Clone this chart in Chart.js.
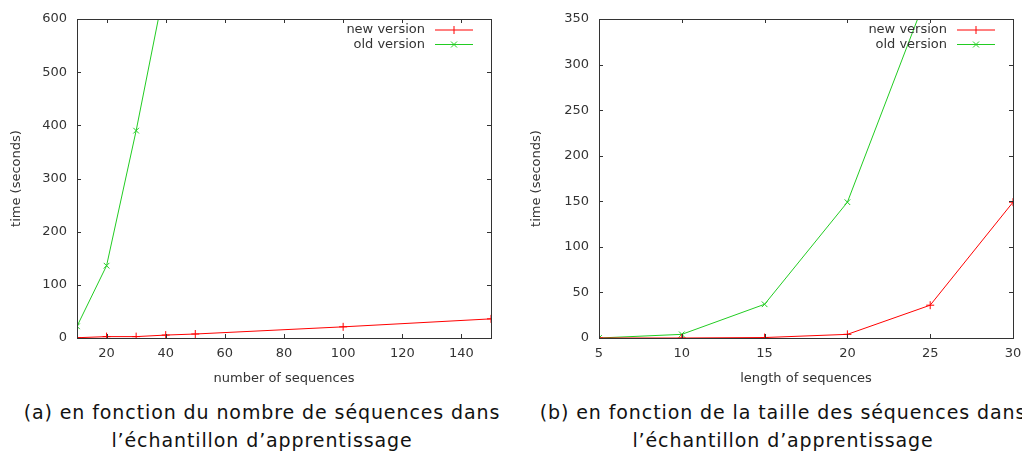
<!DOCTYPE html>
<html>
<head>
<meta charset="utf-8">
<script src="https://cdn.jsdelivr.net/npm/chart.js@4/dist/chart.umd.min.js"></script>
<style>
    body { margin: 0; background: #fff; width: 1022px; height: 455px; overflow: hidden; position: relative; }
    .box { position: absolute; top: 0; height: 390px; }
    #boxA { left: 0; width: 510px; }
    #boxB { left: 520px; width: 512px; }
    .caption {
        position: absolute; top: 398px; text-align: center;
        font-family: 'DejaVu Sans', sans-serif; font-size: 19px; line-height: 28px; color: #111;
        letter-spacing: 0.9px; white-space: nowrap;
    }
    #capA { left: 12px; width: 500px; }
    #capB { left: 533px; width: 500px; }
</style>
</head>
<body>
<div class="box" id="boxA"><canvas id="chartA"></canvas></div>
<div class="box" id="boxB"><canvas id="chartB"></canvas></div>
<div class="caption" id="capA">(a) en fonction du nombre de séquences dans<br>l’échantillon d’apprentissage</div>
<div class="caption" id="capB">(b) en fonction de la taille des séquences dans<br>l’échantillon d’apprentissage</div>

<script>
// (a) time vs number of sequences
const seqCounts = [10, 20, 30, 40, 50, 100, 150];
const newVersionA = [0.5, 2.6, 2.6, 5.5, 7.5, 21, 36];
const oldCountsA = [10, 20, 30, 40];
const oldVersionA = [22, 136, 390, 670];
const yTicksA = [0, 100, 200, 300, 400, 500, 600];
const xTicksA = [20, 40, 60, 80, 100, 120, 140];

// (b) time vs length of sequences
const seqLengths = [5, 10, 15, 20, 25, 30];
const newVersionB = [0, 0, 0.5, 4, 36, 149];
const oldLengthsB = [5, 10, 15, 20, 25];
const oldVersionB = [0, 4, 37, 149, 386];
const yTicksB = [0, 50, 100, 150, 200, 250, 300, 350];
const xTicksB = [5, 10, 15, 20, 25, 30];

const RED = '#ff0000';
const GREEN = '#22cc22';
const FONT = "'DejaVu Sans', sans-serif";

// gnuplot-like inward ticks on all four sides
const innerTicks = {
    id: 'innerTicks',
    afterDatasetsDraw(chart) {
        const ctx = chart.ctx;
        const a = chart.chartArea;
        const len = 4;
        ctx.save();
        ctx.strokeStyle = '#333';
        ctx.lineWidth = 1;
        ctx.beginPath();
        chart.scales.x.ticks.forEach(t => {
            const px = Math.round(chart.scales.x.getPixelForValue(t.value)) + 0.5;
            ctx.moveTo(px, a.bottom); ctx.lineTo(px, a.bottom - len);
            ctx.moveTo(px, a.top); ctx.lineTo(px, a.top + len);
        });
        chart.scales.y.ticks.forEach(t => {
            const py = Math.round(chart.scales.y.getPixelForValue(t.value)) + 0.5;
            ctx.moveTo(a.left, py); ctx.lineTo(a.left + len, py);
            ctx.moveTo(a.right, py); ctx.lineTo(a.right - len, py);
        });
        ctx.stroke();
        ctx.strokeRect(Math.round(a.left) + 0.5, Math.round(a.top) + 0.5,
            Math.round(a.right - a.left), Math.round(a.bottom - a.top));
        ctx.restore();
    }
};

// legend drawn inside the top right, text then sample line with marker
const keyBox = {
    id: 'keyBox',
    afterDraw(chart) {
        const ctx = chart.ctx;
        const a = chart.chartArea;
        ctx.save();
        ctx.font = '13px ' + FONT;
        ctx.textAlign = 'right';
        ctx.textBaseline = 'middle';
        chart.data.datasets.forEach((ds, i) => {
            const y = a.top + 11 + i * 14.5;
            const x1 = a.right - 56, x2 = a.right - 18, xm = (x1 + x2) / 2;
            ctx.fillStyle = '#333';
            ctx.fillText(ds.label, x1 - 10, y);
            ctx.strokeStyle = ds.borderColor;
            ctx.lineWidth = 1;
            ctx.beginPath();
            ctx.moveTo(x1, y); ctx.lineTo(x2, y);
            if (ds.pointStyle === 'cross') {
                ctx.moveTo(xm, y - 4); ctx.lineTo(xm, y + 4);
            } else {
                ctx.moveTo(xm - 3, y - 3); ctx.lineTo(xm + 3, y + 3);
                ctx.moveTo(xm - 3, y + 3); ctx.lineTo(xm + 3, y - 3);
            }
            ctx.stroke();
        });
        ctx.restore();
    }
};

function toPoints(xs, ys) {
    return xs.map((x, i) => ({ x: x, y: ys[i] }));
}

function makeChart(id, opts) {
    const ds = (label, data, color, style) => ({
        label: label,
        data: data,
        borderColor: color,
        backgroundColor: color,
        borderWidth: 1,
        pointStyle: style,
        pointRadius: 4,
        pointBorderWidth: 1,
        pointBorderColor: color,
        tension: 0,
        clip: 0
    });
    return new Chart(document.getElementById(id), {
        type: 'line',
        data: {
            datasets: [
                ds('new version', opts.newData, RED, 'cross'),
                ds('old version', opts.oldData, GREEN, 'crossRot')
            ]
        },
        options: {
            responsive: true,
            maintainAspectRatio: false,
            animation: false,
            events: [],
            layout: { padding: { top: 19, right: opts.padRight, left: 0, bottom: 0 } },
            plugins: { legend: { display: false }, tooltip: { enabled: false } },
            scales: {
                x: {
                    type: 'linear',
                    min: opts.xMin, max: opts.xMax,
                    afterBuildTicks: s => { s.ticks = opts.xTicks.map(v => ({ value: v })); },
                    afterFit: s => { s.height = 52; },
                    grid: { display: false },
                    border: { display: false },
                    ticks: { color: '#333', font: { family: FONT, size: 13 }, padding: 0, maxRotation: 0, autoSkip: false },
                    title: { display: true, text: opts.xTitle, color: '#333', font: { family: FONT, size: 13 }, padding: { top: 2 } }
                },
                y: {
                    min: 0, max: opts.yMax,
                    afterBuildTicks: s => { s.ticks = opts.yTicks.map(v => ({ value: v })); },
                    afterFit: s => { s.width = opts.yWidth; },
                    grid: { display: false },
                    border: { display: false },
                    ticks: { color: '#333', font: { family: FONT, size: 13 }, padding: 2 },
                    title: { display: true, text: 'time (seconds)', color: '#333', font: { family: FONT, size: 13 }, padding: { top: 9, bottom: 0 } }
                }
            }
        },
        plugins: [innerTicks, keyBox]
    });
}

makeChart('chartA', {
    newData: toPoints(seqCounts, newVersionA),
    oldData: toPoints(oldCountsA, oldVersionA),
    xMin: 10, xMax: 150, yMax: 600,
    xTicks: xTicksA, yTicks: yTicksA,
    xTitle: 'number of sequences',
    yWidth: 77, padRight: 19
});

makeChart('chartB', {
    newData: toPoints(seqLengths, newVersionB),
    oldData: toPoints(oldLengthsB, oldVersionB),
    xMin: 5, xMax: 30, yMax: 350,
    xTicks: xTicksB, yTicks: yTicksB,
    xTitle: 'length of sequences',
    yWidth: 79, padRight: 19
});
</script>
</body>
</html>
